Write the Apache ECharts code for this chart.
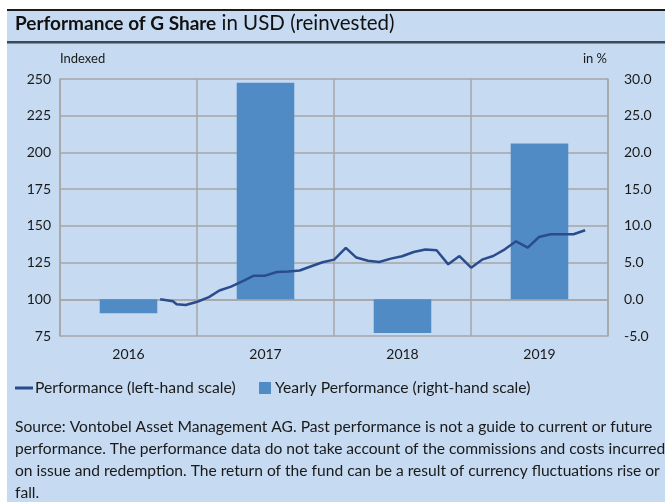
<!DOCTYPE html>
<html><head><meta charset="utf-8">
<script src="https://cdn.jsdelivr.net/npm/echarts@6/dist/echarts.min.js"></script>
<style>html,body{margin:0;padding:0;background:#fff}#c{width:665px;height:502px}</style>
</head><body><div id="c"></div>
<script>
const years = ['2016', '2017', '2018', '2019'];
const yearlyPerf = [-1.9, 29.5, -4.6, 21.2];
const perfDates = ['2016-09-24','2016-10-28','2016-11-07','2016-12-01',
  '2017-01-01','2017-02-01','2017-03-01','2017-04-01','2017-05-01','2017-06-01','2017-07-01','2017-08-01','2017-09-01','2017-10-01','2017-11-01','2017-12-01',
  '2018-01-01','2018-02-01','2018-03-01','2018-04-01','2018-05-01','2018-06-01','2018-07-01','2018-08-01','2018-09-01','2018-10-01','2018-11-01','2018-12-01',
  '2019-01-01','2019-02-01','2019-03-01','2019-04-01','2019-05-01','2019-06-01','2019-07-01','2019-08-01','2019-09-01','2019-10-01','2019-11-01'];
const perfValues = [100, 98.7, 96.6, 96.1,
  98.3, 101.5, 106, 108.6, 112.2, 116.1, 116.1, 118.6, 118.9, 119.6, 122.5, 125.2,
  127, 135, 128.4, 126.2, 125.4, 127.7, 129.3, 132.2, 133.9, 133.4, 123.8, 129.4,
  121.5, 127.2, 129.5, 134, 139.5, 135.2, 142.4, 144.3, 144.3, 144.3, 147];
const leftTicks = {min: 75, max: 250, step: 25};
const rightTicks = {min: -5, max: 30, step: 5};
const footnoteLines = [
  'Source: Vontobel Asset Management AG. Past performance is not a guide to current or future',
  'performance. The performance data do not take account of the commissions and costs incurred',
  'on issue and redemption. The return of the fund can be a result of currency fluctuations rise or',
  'fall.'
];

const FONT = 'Lato';
const BG = '#c6daf1';
const GRID = '#a6a6a6';
const BAR = '#508bc5';
const LINE = '#2b4c8c';
const TXT = '#1a1a1a';

const chart = echarts.init(document.getElementById('c'), null, {renderer: 'canvas'});
chart.setOption({
  animation: false,
  backgroundColor: '#fff',
  textStyle: {fontFamily: FONT, color: TXT},
  graphic: [
    {type: 'rect', z: -10, silent: true, shape: {x: 7, y: 9, width: 658, height: 493}, style: {fill: BG}},
    {type: 'rect', z: -9, silent: true, shape: {x: 7, y: 9, width: 658, height: 2}, style: {fill: '#1b1b1b'}},
    {type: 'rect', z: -9, silent: true, shape: {x: 7, y: 41, width: 658, height: 2.5}, style: {fill: '#3c4a58'}},
    {type: 'text', left: 15, top: 13, style: {
      text: '{b|Performance of G Share}{n| in USD (reinvested)}',
      rich: {
        b: {fontFamily: FONT, fontWeight: 'bold', fontSize: 19, fill: '#111'},
        n: {fontFamily: FONT, fontSize: 20.5, fill: '#111'}
      }
    }},
    {type: 'text', left: 60, top: 52, style: {text: 'Indexed', fontFamily: FONT, fontSize: 13, fill: TXT}},
    {type: 'text', right: 58, top: 52, style: {text: 'in %', fontFamily: FONT, fontSize: 13, fill: TXT, textAlign: 'right'}},
    {type: 'text', left: 15, top: 416, style: {
      text: footnoteLines.join('\n'), fontFamily: FONT, fontSize: 15.6, lineHeight: 22, fill: TXT
    }}
  ],
  legend: [
    {data: [{name: 'Performance (left-hand scale)', icon: 'rect'}], left: 15, top: 380, padding: 0,
     itemWidth: 18, itemHeight: 3, itemGap: 6, textStyle: {fontFamily: FONT, fontSize: 15.7, color: TXT, padding: [0, 0, 0, -3]}},
    {data: [{name: 'Yearly Performance (right-hand scale)', icon: 'rect'}], left: 259, top: 380, padding: 0,
     itemWidth: 12, itemHeight: 12, itemGap: 6, textStyle: {fontFamily: FONT, fontSize: 15.7, color: TXT, padding: [0, 0, 0, -1]}}
  ],
  grid: {left: 60, right: 57, top: 79, bottom: 166, containLabel: false},
  xAxis: [
    {type: 'category', data: years, boundaryGap: true,
     axisLine: {show: true, lineStyle: {color: GRID, width: 1.5}},
     axisTick: {show: false},
     axisLabel: {fontFamily: FONT, fontSize: 14, color: TXT, margin: 11},
     splitLine: {show: true, interval: 0, lineStyle: {color: GRID, width: 1.5}}},
    {type: 'time', min: '2016-01-01', max: '2020-01-01', show: false}
  ],
  yAxis: [
    {type: 'value', min: leftTicks.min, max: leftTicks.max, interval: leftTicks.step, position: 'left',
     axisLine: {show: true, lineStyle: {color: GRID, width: 1.5}}, axisTick: {show: false},
     axisLabel: {fontFamily: FONT, fontSize: 14, color: TXT, margin: 9},
     splitLine: {show: true, lineStyle: {color: GRID, width: 1.5}}},
    {type: 'value', min: rightTicks.min, max: rightTicks.max, interval: rightTicks.step, position: 'right',
     axisLine: {show: true, lineStyle: {color: GRID, width: 1.5}}, axisTick: {show: false},
     axisLabel: {fontFamily: FONT, fontSize: 14, color: TXT, margin: 16, formatter: v => v.toFixed(1)},
     splitLine: {show: false}}
  ],
  series: [
    {name: 'Yearly Performance (right-hand scale)', type: 'bar', xAxisIndex: 0, yAxisIndex: 1,
     data: yearlyPerf, barWidth: '42%', itemStyle: {color: BAR}, z: 2},
    {name: 'Performance (left-hand scale)', type: 'line', xAxisIndex: 1, yAxisIndex: 0,
     data: perfDates.map((d, i) => [d, perfValues[i]]), showSymbol: false, symbol: 'none',
     lineStyle: {color: LINE, width: 2.5}, itemStyle: {color: LINE}, z: 3}
  ]
});
</script></body></html>
